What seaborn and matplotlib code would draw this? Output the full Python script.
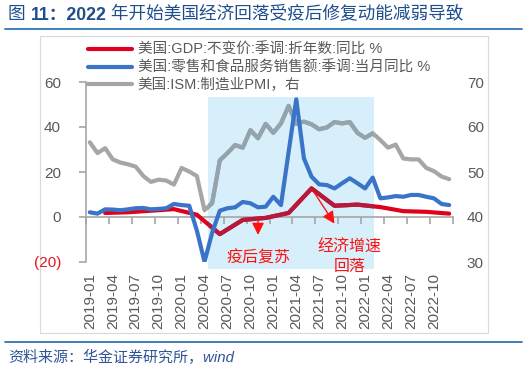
import numpy as np
import pandas as pd
import matplotlib
matplotlib.use("Agg")
import matplotlib.pyplot as plt
import seaborn as sns
from matplotlib.patches import Rectangle
from matplotlib.lines import Line2D

# ---------------- data ----------------
months = pd.date_range("2019-01", periods=48, freq="MS").strftime("%Y-%m").tolist()

retail = [2.1, 1.5, 3.4, 3.3, 3.0, 3.4, 3.9, 4.0, 3.4, 3.6, 3.9, 5.8,
          5.3, 5.0, -6.0, -19.9, -7.0, 2.8, 3.9, 4.3, 6.7, 6.1, 4.3, 4.6,
          9.0, 5.3, 28.9, 52.3, 26.1, 17.9, 14.5, 14.2, 12.7, 15.0, 17.2, 15.0,
          12.7, 17.5, 8.3, 8.7, 9.3, 9.0, 9.8, 9.8, 9.0, 8.3, 5.8, 5.3]

ism = [56.6, 54.2, 55.3, 52.8, 52.1, 51.7, 51.2, 49.1, 47.8, 48.3, 48.1, 47.2,
       50.9, 50.1, 49.1, 41.5, 43.1, 52.6, 54.2, 56.0, 55.4, 59.3, 57.5, 60.7,
       58.7, 60.8, 64.7, 60.7, 61.2, 60.6, 59.5, 59.9, 61.1, 60.8, 61.1, 58.7,
       57.6, 58.6, 57.1, 55.4, 56.1, 53.0, 52.8, 52.8, 50.9, 50.2, 49.0, 48.4]

gdp_months = ["2019-03", "2019-06", "2019-09", "2019-12",
              "2020-03", "2020-06", "2020-09", "2020-12",
              "2021-03", "2021-06", "2021-09", "2021-12",
              "2022-03", "2022-06", "2022-09", "2022-12"]
gdp = [1.8, 2.1, 2.8, 3.5, 1.0, -7.6, -1.3, -0.4,
       1.8, 12.7, 5.0, 5.5, 4.4, 2.6, 2.3, 1.5]

left_ticks = [-20, 0, 20, 40, 60]
left_ticklabels = ["(20)", "0", "20", "40", "60"]
right_ticks = [30, 40, 50, 60, 70]

labels = ["美国:GDP:不变价:季调:折年数:同比 %",
          "美国:零售和食品服务销售额:季调:当月同比 %",
          "美国:ISM:制造业PMI，右"]

title_parts = ["图 ", "11：2022", " 年开始美国经济回落受疫后修复动能减弱导致"]
source_text = "资料来源：华金证券研究所，wind"

df = pd.DataFrame({"month": months, "retail": retail, "ism": ism})
df["pos"] = np.arange(len(months))
df_gdp = pd.DataFrame({"month": gdp_months, "gdp": gdp})
df_gdp["pos"] = [months.index(m) for m in gdp_months]

# ---------------- style ----------------
sns.set_theme(style="white")
plt.rcParams["font.family"] = ["Liberation Sans", "Noto Sans CJK SC", "DejaVu Sans"]

RED = "#e0001b"
RED_S = "#b51a3c"
BLUE = "#3a74c8"
GRAY = "#a6a6a6"
GRAY_S = "#94a4ad"
TXT = "#595959"
LW = 3.0

W, H = 527, 370
fig = plt.figure(figsize=(W / 100, H / 100), dpi=100)
fig.patch.set_facecolor("white")

ax = fig.add_axes([86 / W, 1 - 262 / H, (453 - 86) / W, (262 - 82) / H])
ax2 = ax.twinx()
ax2.set_zorder(1)
ax.set_zorder(2)
ax.patch.set_visible(False)

ax.set_xlim(-0.5, 47.5)
ax.set_ylim(-20, 60)
ax2.set_ylim(30, 70)

# shaded period
rect = Rectangle((15.5, -23.1), 37.15 - 15.5, 53.3 + 23.1, transform=ax.transData,
                 facecolor="#d7effa", edgecolor="none", zorder=0, clip_on=False)
ax2.add_patch(rect)

# ISM (right axis)
sns.lineplot(data=df, x="pos", y="ism", ax=ax2, color=GRAY, lw=LW, legend=False)
n0 = len(ax2.lines)
sns.lineplot(data=df, x="pos", y="ism", ax=ax2, color=GRAY_S, lw=LW, legend=False)
for ln in ax2.lines[n0:]:
    ln.set_clip_path(rect)

# GDP
sns.lineplot(data=df_gdp, x="pos", y="gdp", ax=ax, color=RED, lw=LW, legend=False)
n1 = len(ax.lines)
sns.lineplot(data=df_gdp, x="pos", y="gdp", ax=ax, color=RED_S, lw=LW, legend=False)
for ln in ax.lines[n1:]:
    ln.set_clip_path(rect)

# retail
sns.lineplot(data=df, x="pos", y="retail", ax=ax, color=BLUE, lw=LW, legend=False)

ax.set_xlim(-0.5, 47.5)
ax.set_ylim(-20, 60)
ax2.set_ylim(30, 70)

# axes styling
for s in ["top", "right", "bottom"]:
    ax.spines[s].set_visible(False)
ax.spines["left"].set_color(GRAY)
ax.spines["left"].set_linewidth(1.2)
for s in ax2.spines.values():
    s.set_visible(False)

ax.set_xticks(df["pos"][::3])
ax.set_xticklabels(df["month"][::3], rotation=90, fontsize=11, color=TXT)
ax.tick_params(axis="x", length=0, pad=8)
ax.set_yticks(left_ticks)
ax.set_yticklabels(left_ticklabels, fontsize=11, color=TXT)
ax.tick_params(axis="y", direction="out", length=5, width=1.2, color=GRAY, pad=13, left=True)
ax.get_yticklabels()[0].set_color("#e8141e")
ax.set_xlabel("")
ax.set_ylabel("")

ax2.set_yticks(right_ticks)
ax2.set_yticklabels([str(t) for t in right_ticks], fontsize=11, color=TXT)
ax2.tick_params(axis="y", length=0, pad=10)
ax2.set_ylabel("")
ax2.grid(False)
ax.grid(False)

# zero axis line with tick marks
sec = ax.secondary_xaxis(0.25)
sec.set_xticks(np.arange(-0.5, 48, 3))
sec.tick_params(axis="x", direction="out", length=5, width=1.2, color=GRAY, labelbottom=False)
sec.spines["bottom"].set_color(GRAY)
sec.spines["bottom"].set_linewidth(1.2)

# annotations
ax.annotate("", xy=(22, -9.2), xytext=(22, -0.4),
            arrowprops=dict(arrowstyle="-|>", color="#ff1010", lw=1.0, mutation_scale=18))
ax.text(22, -18.2, "疫后复苏", color="#ff1010", fontsize=11.5, ha="center", va="center",
        family=["Noto Sans CJK SC"], clip_on=False)
ax.annotate("", xy=(32.2, -4.0), xytext=(29, 12.7),
            arrowprops=dict(arrowstyle="-|>", color="#ff1010", lw=1.0, mutation_scale=18))
ax.text(34.0, -17.8, "经济增速\n回落", color="#ff1010", fontsize=11.5, ha="center", va="center",
        multialignment="center", linespacing=1.2, family=["Noto Sans CJK SC"], clip_on=False)

# legend
handles = [Line2D([], [], color=c, lw=LW) for c in (RED, BLUE, GRAY)]
leg = fig.legend(handles, labels, loc="upper left", bbox_to_anchor=(88 / W, 1 - 43 / H),
                 frameon=False, fontsize=10.5, handlelength=3.0, handletextpad=0.4,
                 labelspacing=0.22, borderpad=0, borderaxespad=0)
for t in leg.get_texts():
    t.set_color(TXT)

# frame
fig.add_artist(Rectangle((40 / W, 1 - 333 / H), (488 - 40) / W, (333 - 36) / H,
                         transform=fig.transFigure, fill=False, edgecolor="#d9d9d9", lw=0.8))
# header / footer rules
for yy in (29, 342):
    fig.add_artist(Line2D([5 / W, 522 / W], [1 - yy / H] * 2, transform=fig.transFigure,
                          color="#2e75b6", lw=1.3))

# title
renderer = fig.canvas.get_renderer()
x = 8 / W
for part, wt in zip(title_parts, ["normal", "bold", "normal"]):
    t = fig.text(x, 1 - 15 / H, part, fontsize=12.7, color="#1f4e8c", va="center",
                 fontweight=wt, family=["Liberation Sans", "Noto Sans CJK SC"])
    bb = t.get_window_extent(renderer)
    x = bb.x1 / fig.bbox.width

fig.text(8 / W, 1 - 357 / H, source_text, fontsize=10.8, color="#2f5597", va="center",
         style="italic", family=["Liberation Sans", "Noto Sans CJK SC"])

fig.savefig("out.png", dpi=100)
